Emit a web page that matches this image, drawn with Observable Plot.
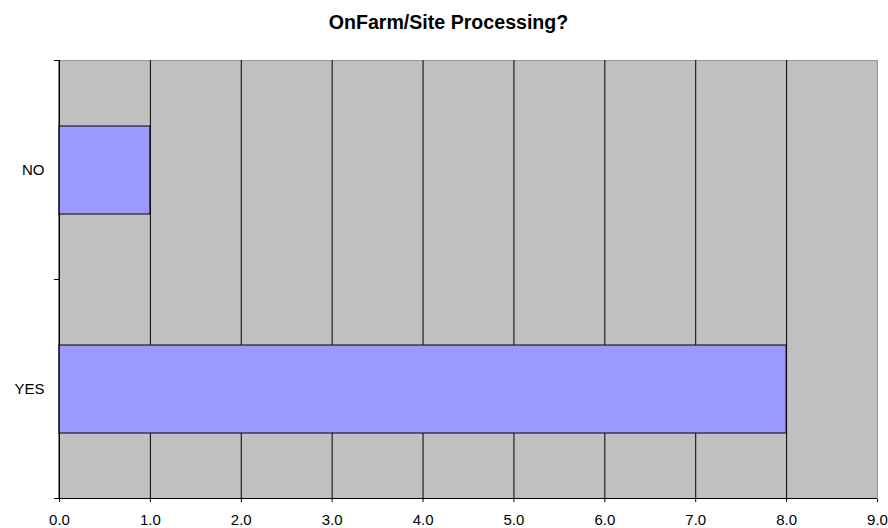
<!DOCTYPE html>
<html>
<head>
<meta charset="utf-8">
<script src="https://cdn.jsdelivr.net/npm/d3@7"></script>
<script src="https://cdn.jsdelivr.net/npm/@observablehq/plot@0.6"></script>
<style>
  html, body { margin: 0; padding: 0; background: white; }
</style>
</head>
<body>
<div id="chart"></div>
<script>
const title = "OnFarm/Site Processing?";
const categories = ["NO", "YES"];
const values = [1, 8];
const xTicks = [0, 1, 2, 3, 4, 5, 6, 7, 8, 9];
const xTickLabels = ["0.0", "1.0", "2.0", "3.0", "4.0", "5.0", "6.0", "7.0", "8.0", "9.0"];

const data = categories.map((c, i) => ({category: c, value: values[i]}));

const chart = Plot.plot({
  width: 888,
  height: 528,
  marginLeft: 59,
  marginRight: 11,
  marginTop: 60,
  marginBottom: 30,
  style: {fontFamily: "'Liberation Sans', Arial, sans-serif", fontSize: "15px", background: "white", color: "black"},
  x: {domain: [0, 9], ticks: xTicks, tickFormat: (d) => xTickLabels[xTicks.indexOf(d)], tickSize: 4, tickPadding: 12, label: null},
  y: {domain: categories, paddingInner: 0.6, paddingOuter: 0.3, tickSize: 0, tickPadding: 15, label: null},
  marks: [
    Plot.frame({fill: "#C0C0C0", stroke: "#999999"}),
    Plot.ruleX(xTicks.slice(0, -1), {stroke: "black", strokeWidth: 1}),
    Plot.barX(data, {x: "value", y: "category", fill: "#9999FF", stroke: "black", strokeWidth: 1}),
    Plot.text([title], {frameAnchor: "top-left", dx: 448 - 59, dy: -37.5, lineAnchor: "middle", textAnchor: "middle", fontWeight: "bold", fontSize: 19.6})
  ]
});
document.getElementById("chart").appendChild(chart);

// axis line at bottom and category-boundary ticks on the left, from Plot's scales
const svg = d3.select(chart);
const xs = chart.scale("x");
const ys = chart.scale("y");
const x0 = xs.apply(0), x9 = xs.apply(9);
const step = ys.step, bw = ys.bandwidth;
const boundaries = [];
categories.forEach((c, i) => {
  const s = ys.apply(c) - (step - bw) / 2;
  if (i === 0) boundaries.push(s);
  boundaries.push(s + step);
});
const yBottom = boundaries[boundaries.length - 1];
const g = svg.append("g").attr("stroke", "black").attr("stroke-width", 1);
g.append("line").attr("x1", x0).attr("x2", x9).attr("y1", yBottom).attr("y2", yBottom);
g.append("line").attr("x1", x0).attr("x2", x0).attr("y1", boundaries[0]).attr("y2", yBottom);
boundaries.forEach((b) => {
  g.append("line").attr("x1", x0 - 5).attr("x2", x0).attr("y1", b).attr("y2", b);
});
</script>
</body>
</html>
